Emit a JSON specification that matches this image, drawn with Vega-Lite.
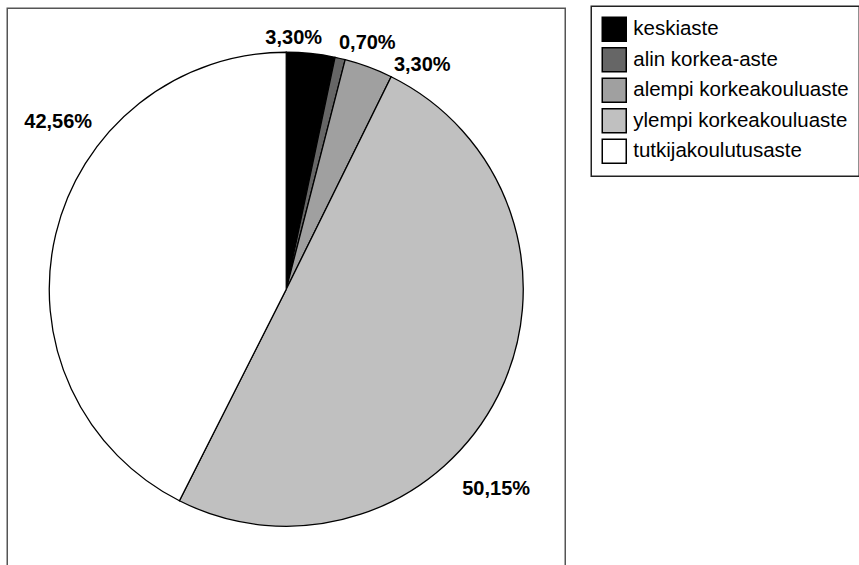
{
  "$schema": "https://vega.github.io/schema/vega-lite/v6.json",
  "width": 558,
  "height": 562,
  "autosize": {"type": "pad"},
  "padding": {"left": 7.25, "top": 5.25, "right": 0, "bottom": 0},
  "background": "white",
  "config": {
    "view": {"stroke": "#555555", "strokeWidth": 1.5},
    "style": {"view": {"stroke": "#555555", "strokeWidth": 1.5}},
    "font": "Liberation Sans",
    "legend": {"strokeWidth": 1.5}
  },
  "data": {
    "values": [
      {"k": "keskiaste", "v": 3.30, "lbl": "3,30%", "n": 1},
      {"k": "alin korkea-aste", "v": 0.70, "lbl": "0,70%", "n": 2},
      {"k": "alempi korkeakouluaste", "v": 3.30, "lbl": "3,30%", "n": 3},
      {"k": "ylempi korkeakouluaste", "v": 50.15, "lbl": "50,15%", "n": 4},
      {"k": "tutkijakoulutusaste", "v": 42.56, "lbl": "42,56%", "n": 5}
    ]
  },
  "encoding": {
    "theta": {"field": "v", "type": "quantitative", "stack": true},
    "order": {"field": "n", "type": "quantitative", "sort": "ascending"},
    "detail": {"field": "k", "type": "nominal"}
  },
  "layer": [
    {
      "mark": {"type": "arc", "radius": 237, "stroke": "black", "strokeWidth": 1.3},
      "encoding": {
        "color": {
          "field": "k",
          "type": "nominal",
          "sort": null,
          "scale": {
            "domain": ["keskiaste", "alin korkea-aste", "alempi korkeakouluaste", "ylempi korkeakouluaste", "tutkijakoulutusaste"],
            "range": ["#000000", "#666666", "#a0a0a0", "#c0c0c0", "#ffffff"]
          },
          "legend": {
            "title": null,
            "orient": "none",
            "legendX": 584,
            "legendY": -2,
            "symbolType": "square",
            "symbolSize": 576,
            "symbolStrokeColor": "black",
            "symbolStrokeWidth": 1.5,
            "symbolOpacity": 1,
            "labelFont": "Liberation Sans",
            "labelFontSize": 20.5,
            "labelColor": "black",
            "labelOffset": 6,
            "labelLimit": 400,
            "rowPadding": 0.5,
            "padding": 10,
            "strokeColor": "#222222",
            "fillColor": "white"
          }
        }
      }
    },
    {
      "mark": {"type": "text", "radius": 251, "thetaOffset": -0.074, "font": "Liberation Sans", "fontWeight": "bold", "fontSize": 20, "align": "center", "baseline": "middle", "color": "black"},
      "encoding": {"text": {"condition": {"test": "datum.n === 1", "field": "lbl", "type": "nominal"}, "value": ""}}
    },
    {
      "mark": {"type": "text", "radius": 259, "thetaOffset": 0.089, "font": "Liberation Sans", "fontWeight": "bold", "fontSize": 20, "align": "center", "baseline": "middle", "color": "black"},
      "encoding": {"text": {"condition": {"test": "datum.n === 2", "field": "lbl", "type": "nominal"}, "value": ""}}
    },
    {
      "mark": {"type": "text", "radius": 262, "thetaOffset": 0.191, "font": "Liberation Sans", "fontWeight": "bold", "fontSize": 20, "align": "center", "baseline": "middle", "color": "black"},
      "encoding": {"text": {"condition": {"test": "datum.n === 3", "field": "lbl", "type": "nominal"}, "value": ""}}
    },
    {
      "mark": {"type": "text", "radius": 289.6, "thetaOffset": 0.297, "font": "Liberation Sans", "fontWeight": "bold", "fontSize": 20, "align": "center", "baseline": "middle", "color": "black"},
      "encoding": {"text": {"condition": {"test": "datum.n === 4", "field": "lbl", "type": "nominal"}, "value": ""}}
    },
    {
      "mark": {"type": "text", "radius": 282.6, "thetaOffset": 0.398, "font": "Liberation Sans", "fontWeight": "bold", "fontSize": 20, "align": "center", "baseline": "middle", "color": "black"},
      "encoding": {"text": {"condition": {"test": "datum.n === 5", "field": "lbl", "type": "nominal"}, "value": ""}}
    }
  ]
}
